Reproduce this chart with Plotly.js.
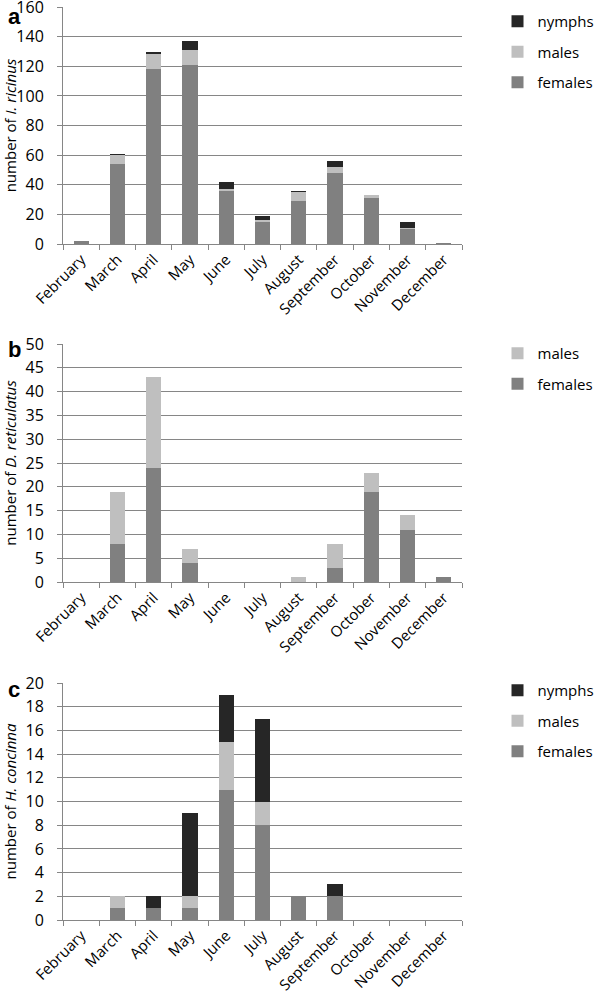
<!DOCTYPE html>
<html>
<head>
<meta charset="utf-8">
<script src="https://cdn.plot.ly/plotly-3.0.1.min.js"></script>
<style>html,body{margin:0;padding:0;background:#fff;}#chart{width:600px;height:996px;}</style>
</head>
<body>
<div id="chart"></div>
<script>
const months = ["February","March","April","May","June","July","August","September","October","November","December"];

// Panel a: I. ricinus
const aFemales = [2, 54, 118, 121, 36, 15, 29, 48, 31, 10, 1];
const aMales   = [0, 6, 10, 10, 1, 1, 6, 4, 2, 1, 0];
const aNymphs  = [0, 1, 2, 6, 5, 3, 1, 4, 0, 4, 0];

// Panel b: D. reticulatus
const bFemales = [0, 8, 24, 4, 0, 0, 0, 3, 19, 11, 1];
const bMales   = [0, 11, 19, 3, 0, 0, 1, 5, 4, 3, 0];

// Panel c: H. concinna
const cFemales = [0, 1, 1, 1, 11, 8, 2, 2, 0, 0, 0];
const cMales   = [0, 1, 0, 1, 4, 2, 0, 0, 0, 0, 0];
const cNymphs  = [0, 0, 1, 7, 4, 7, 0, 1, 0, 0, 0];

const colF = "#808080", colM = "#bfbfbf", colN = "#262626";
const font = "Open Sans, sans-serif";
const ranks = {nymphs: 1, males: 2, females: 3};

function bar(name, y, color, xa, ya, leg) {
  return {type: "bar", name: name, x: months, y: y, xaxis: xa, yaxis: ya,
    marker: {color: color, line: {width: 0}}, legend: leg, legendgroup: name + leg,
    legendrank: ranks[name], hoverinfo: "skip"};
}

const data = [
  bar("females", aFemales, colF, "x", "y", "legend"),
  bar("males", aMales, colM, "x", "y", "legend"),
  bar("nymphs", aNymphs, colN, "x", "y", "legend"),
  bar("females", bFemales, colF, "x2", "y2", "legend2"),
  bar("males", bMales, colM, "x2", "y2", "legend2"),
  bar("females", cFemales, colF, "x3", "y3", "legend3"),
  bar("males", cMales, colM, "x3", "y3", "legend3"),
  bar("nymphs", cNymphs, colN, "x3", "y3", "legend3")
];

const H = 996;
function dom(top, bottom) { return [1 - bottom / H, 1 - top / H]; }

function xax(anchor) {
  return {anchor: anchor, domain: [0, 1], type: "category", tickangle: -45,
    showline: true, linecolor: "#868686", linewidth: 1, ticks: "outside", ticklen: 5,
    tickcolor: "#868686", tickson: "boundaries", showgrid: false,
    tickfont: {family: font, size: 15, color: "#000"}, fixedrange: true};
}
function yax(anchor, domain, max, dtick, title) {
  return {anchor: anchor, domain: domain, range: [0, max * 1.0004], tick0: 0, dtick: dtick,
    showline: true, linecolor: "#868686", linewidth: 1, ticks: "outside", ticklen: 5,
    tickcolor: "#868686", ticklabelstandoff: 10, ticklabeloverflow: "allow",
    showgrid: true, gridcolor: "#868686", gridwidth: 1, zeroline: false,
    tickfont: {family: font, size: 16, color: "#000"},
    title: {text: title, font: {family: font, size: 15, color: "#000"}, standoff: 6},
    fixedrange: true};
}
function leg(topPx) {
  return {x: 1.089, xanchor: "left", y: 1 - topPx / H, yanchor: "top", yref: "paper",
    traceorder: "grouped", tracegroupgap: 8,
    font: {family: font, size: 15, color: "#000"}, bgcolor: "rgba(0,0,0,0)"};
}

const lblFont = {family: "Liberation Sans, Arial, sans-serif", size: 22, color: "#000"};
const layout = {
  width: 600, height: 996,
  margin: {l: 63, r: 94, t: 0, b: 0},
  paper_bgcolor: "#fff", plot_bgcolor: "#fff",
  barmode: "stack", bargap: 0.58,
  showlegend: true,
  xaxis: xax("y"), xaxis2: xax("y2"), xaxis3: xax("y3"),
  yaxis: yax("x", dom(7, 244), 160, 20, "number of <i>I. ricinus</i>"),
  yaxis2: yax("x2", dom(344, 582), 50, 5, "number of <i>D. reticulatus</i>"),
  yaxis3: yax("x3", dom(683, 920), 20, 2, "number of <i>H. concinna</i>"),
  legend: leg(5), legend2: leg(337), legend3: leg(674),
  annotations: [
    {text: "<b>a</b>", xref: "paper", yref: "paper", x: -63/443, y: 1 - 2/H, xanchor: "left", yanchor: "top", showarrow: false, font: lblFont},
    {text: "<b>b</b>", xref: "paper", yref: "paper", x: -63/443, y: 1 - 335/H, xanchor: "left", yanchor: "top", showarrow: false, font: lblFont},
    {text: "<b>c</b>", xref: "paper", yref: "paper", x: -63/443, y: 1 - 675/H, xanchor: "left", yanchor: "top", showarrow: false, font: lblFont}
  ]
};

Plotly.newPlot("chart", data, layout, {displayModeBar: false, staticPlot: true});
</script>
</body>
</html>
